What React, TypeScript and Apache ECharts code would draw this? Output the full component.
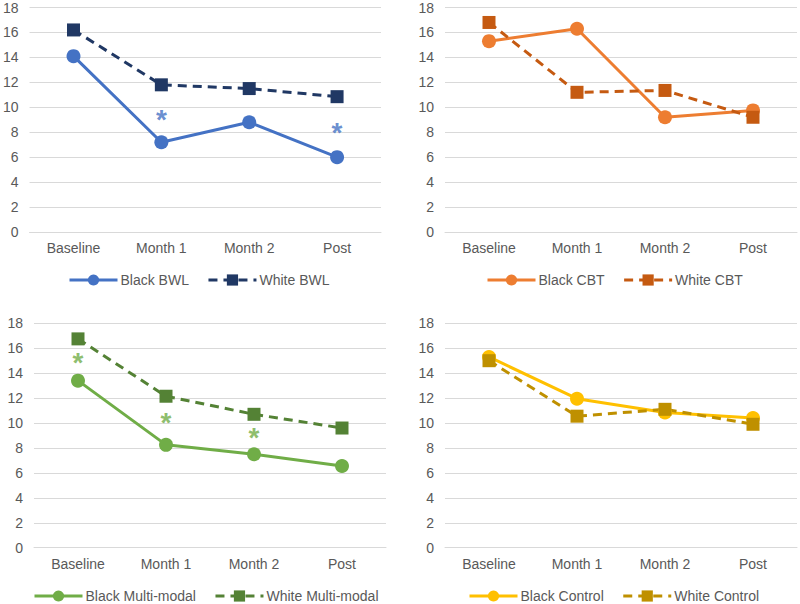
import React, { useEffect, useRef } from "react";
import * as echarts from "echarts";

const categories = ["Baseline", "Month 1", "Month 2", "Post"];
const yTicks = { min: 0, max: 18, interval: 2 };

const blackBWL = [14.1, 7.2, 8.8, 6.0];
const whiteBWL = [16.2, 11.8, 11.5, 10.85];
const starsBWL: [string, number][] = [["Month 1", 9.5], ["Post", 8.45]];

const blackCBT = [15.3, 16.3, 9.2, 9.75];
const whiteCBT = [16.8, 11.2, 11.35, 9.2];

const blackMM = [13.4, 8.25, 7.5, 6.55];
const whiteMM = [16.75, 12.15, 10.7, 9.6];
const starsMM: [string, number][] = [["Baseline", 15.3], ["Month 1", 10.5], ["Month 2", 9.3]];

const blackCtl = [15.3, 11.95, 10.85, 10.4];
const whiteCtl = [15.0, 10.55, 11.1, 9.9];

const panels = [
  { black: "Black BWL", white: "White BWL", bData: blackBWL, wData: whiteBWL, bColor: "#4472C4", wColor: "#203864", stars: starsBWL, starColor: "#4472C4", grid: { left: 29, top: 7.5, width: 352, height: 224.5 }, legend: { left: 68, top: 273 } },
  { black: "Black CBT", white: "White CBT", bData: blackCBT, wData: whiteCBT, bColor: "#ED7D31", wColor: "#C55A11", stars: [] as [string, number][], starColor: "#ED7D31", grid: { left: 445, top: 7.5, width: 352, height: 224.5 }, legend: { left: 486, top: 273 } },
  { black: "Black Multi-modal", white: "White Multi-modal", bData: blackMM, wData: whiteMM, bColor: "#70AD47", wColor: "#548235", stars: starsMM, starColor: "#70AD47", grid: { left: 34, top: 323.3, width: 352, height: 224.4 }, legend: { left: 33, top: 589 } },
  { black: "Black Control", white: "White Control", bData: blackCtl, wData: whiteCtl, bColor: "#FFC000", wColor: "#BF9000", stars: [] as [string, number][], starColor: "#FFC000", grid: { left: 445, top: 323.3, width: 352, height: 224.4 }, legend: { left: 468, top: 589 } },
];

const FONT = "Liberation Sans, Arial, sans-serif";
const TEXT = "#595959";

export default function App() {
  const ref = useRef<HTMLDivElement>(null);
  useEffect(() => {
    document.body.style.margin = "0";
    const chart = echarts.init(ref.current!, null, { renderer: "svg" });
    const grid: any[] = [];
    const xAxis: any[] = [];
    const yAxis: any[] = [];
    const legend: any[] = [];
    const series: any[] = [];
    panels.forEach((p, i) => {
      grid.push({ ...p.grid });
      xAxis.push({
        type: "category",
        gridIndex: i,
        data: categories,
        boundaryGap: true,
        axisLine: { lineStyle: { color: "#D9D9D9", width: 1 } },
        axisTick: { show: false },
        axisLabel: { color: TEXT, fontSize: 14, fontFamily: FONT, margin: 9 },
      });
      yAxis.push({
        type: "value",
        gridIndex: i,
        min: yTicks.min,
        max: yTicks.max,
        interval: yTicks.interval,
        axisLine: { show: false },
        axisTick: { show: false },
        axisLabel: { color: TEXT, fontSize: 14, fontFamily: FONT, margin: 11 },
        splitLine: { lineStyle: { color: "#D9D9D9", width: 1 } },
      });
      legend.push({
        data: [p.black, p.white],
        left: p.legend.left,
        top: p.legend.top,
        padding: 0,
        itemWidth: 48,
        itemHeight: 14,
        itemGap: 18,
        lineStyle: { width: 3 },
        textStyle: { color: TEXT, fontSize: 14, fontFamily: FONT, padding: [0, 0, 0, -2] },
        selectedMode: false,
      });
      series.push({
        name: p.black,
        type: "line",
        xAxisIndex: i,
        yAxisIndex: i,
        data: p.bData,
        symbol: "circle",
        symbolSize: 14,
        color: p.bColor,
        lineStyle: { width: 3, color: p.bColor },
        itemStyle: { color: p.bColor },
      });
      series.push({
        name: p.white,
        type: "line",
        xAxisIndex: i,
        yAxisIndex: i,
        data: p.wData,
        symbol: "rect",
        symbolSize: 13,
        color: p.wColor,
        lineStyle: { width: 3, color: p.wColor, type: [9, 6] },
        itemStyle: { color: p.wColor },
      });
      if (p.stars.length) {
        series.push({
          name: p.black + " sig",
          type: "scatter",
          xAxisIndex: i,
          yAxisIndex: i,
          data: p.stars,
          symbolSize: 0,
          label: {
            show: true,
            position: "inside",
            formatter: "*",
            fontSize: 28,
            fontWeight: "bold",
            fontFamily: FONT,
            color: p.starColor,
            offset: [0, 6],
          },
        });
      }
    });
    chart.setOption({
      animation: false,
      backgroundColor: "#ffffff",
      grid,
      xAxis,
      yAxis,
      legend,
      series,
    });
    return () => chart.dispose();
  }, []);
  return <div ref={ref} style={{ width: 800, height: 604 }} />;
}
